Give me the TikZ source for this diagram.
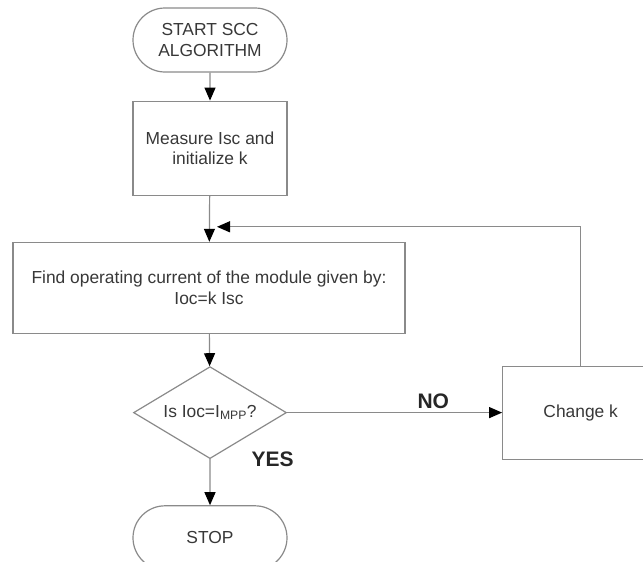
\documentclass[tikz,border=0pt]{standalone}
\usepackage{fontspec}
\setmainfont{Liberation Sans}
\usetikzlibrary{arrows.meta,positioning,shapes.geometric,shapes.misc}

\definecolor{linegray}{HTML}{8A8A8A}
\definecolor{textgray}{HTML}{383838}

\begin{document}
\begin{tikzpicture}[
  font=\fontsize{17.4}{20.5}\selectfont,
  text=textgray,
  >={Triangle[length=13pt,width=11pt,color=black]},
  terminal/.style={
    draw=linegray, rounded rectangle, line width=1.2pt,
    align=center, inner sep=0pt,
    minimum width=154pt, minimum height=64pt
  },
  process/.style={
    draw=linegray, rectangle, line width=1.2pt,
    align=center, inner sep=0pt,
    minimum width=154pt, minimum height=94pt
  },
  decision/.style={
    draw=linegray, diamond, aspect=1.66, line width=1.2pt,
    align=center, inner sep=0pt,
    minimum width=153pt, minimum height=92pt
  },
  edge/.style={->, draw=linegray, line width=1.2pt},
  answer/.style={font=\fontsize{21}{24}\bfseries\selectfont, text=black!85}
]

% frame of the page
\useasboundingbox (0pt,0pt) rectangle (643pt,-562pt);

% Main column
\node[terminal] (start) at (210pt,-40pt) {START SCC\\ALGORITHM};

\node[process, below=28pt of start] (measure)
{Measure Isc and\\initialize k};

\node[process, below=46pt of measure, minimum width=392pt, minimum height=91pt,
  xshift=-1pt] (operating)
{Find operating current of the module given by:\\Ioc=k Isc};

\node[decision, below=32pt of operating, xshift=1pt] (check)
{Is Ioc=I\textsubscript{MPP}?};

\node[terminal, below=46pt of check] (stop) {STOP};

% Side branch
\node[process, right=215pt of check, minimum width=156pt, minimum height=93pt]
  (changek) {Change k};

% Merge point of the loop
\coordinate[below=31pt of measure] (merge);

% Edges
\draw[edge] (start) -- (measure);
\draw[edge] (measure) -- (operating);
\draw[edge] (operating) -- (check);
\draw[edge] (check) -- (stop);
\draw[edge] (check) -- node[answer, pos=0.68, above] (no) {NO} (changek);
\draw[edge, shorten >=7pt] (changek.north) |- (merge);

\node[answer, anchor=west] (yes) at ([xshift=38pt]check.south) {YES};

\end{tikzpicture}
\end{document}
